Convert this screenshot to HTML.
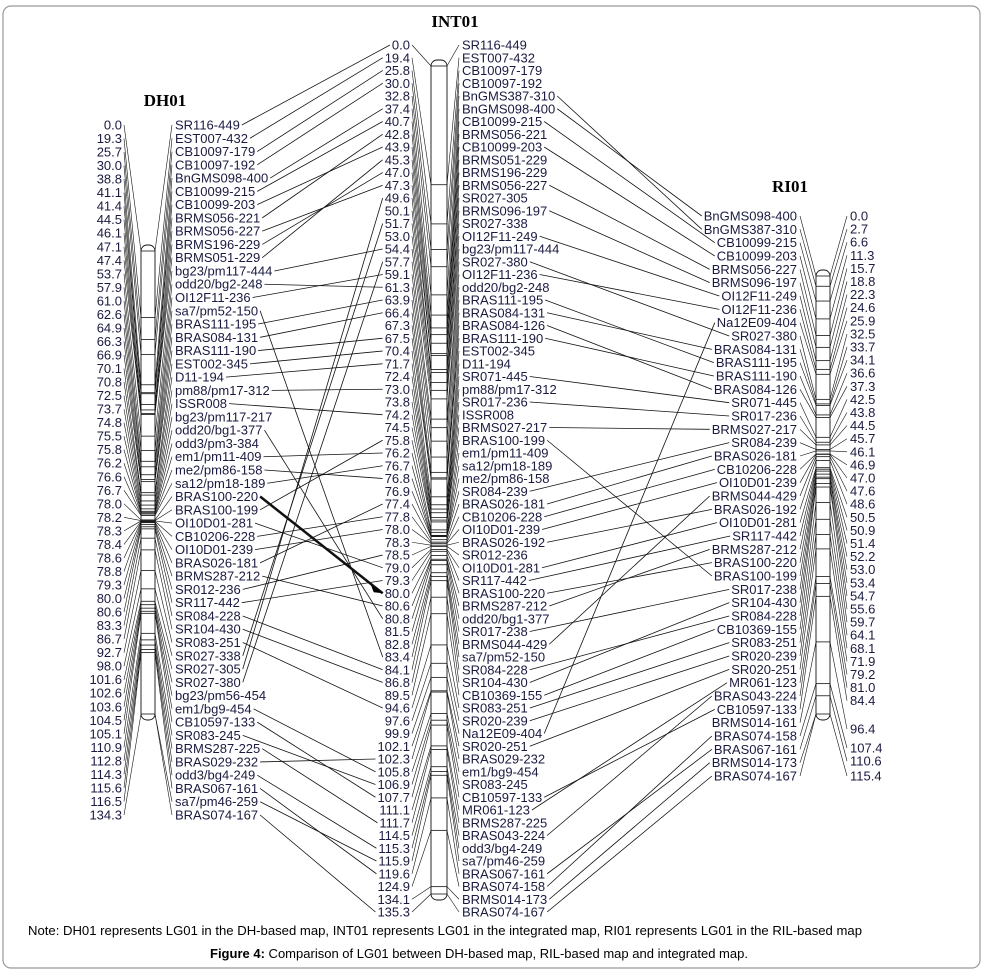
<!DOCTYPE html>
<html><head><meta charset="utf-8">
<style>
html,body{margin:0;padding:0;background:#fff;}
#c{position:relative;width:984px;height:977px;overflow:hidden;}
svg text{font-family:"Liberation Sans",Arial,sans-serif;}
</style></head>
<body><div id="c">
<svg id="s" width="984" height="977" xmlns="http://www.w3.org/2000/svg">
<rect x="3" y="6" width="977" height="962" rx="8" fill="none" stroke="#999" stroke-width="1.2"/>
<text x="455" y="27" font-family="Liberation Serif" font-weight="bold" font-size="17" text-anchor="middle" style="font-family:'Liberation Serif',serif">INT01</text>
<text x="165" y="106" font-weight="bold" font-size="17" text-anchor="middle" style="font-family:'Liberation Serif',serif">DH01</text>
<text x="790" y="192" font-weight="bold" font-size="17" text-anchor="middle" style="font-family:'Liberation Serif',serif">RI01</text>
<text x="28" y="935" font-size="12.5" textLength="834" lengthAdjust="spacingAndGlyphs">Note: DH01 represents LG01 in the DH-based map, INT01 represents LG01 in the integrated map, RI01  represents LG01 in the RIL-based map</text>
<text x="210" y="958" font-size="12.5" textLength="538" lengthAdjust="spacingAndGlyphs"><tspan font-weight="bold">Figure 4:</tspan> Comparison of LG01 between DH-based map, RIL-based map and integrated map.</text>
<g id="g"></g>
</svg>
</div>
<script>
var DHn="SR116-449,EST007-432,CB10097-179,CB10097-192,BnGMS098-400,CB10099-215,CB10099-203,BRMS056-221,BRMS056-227,BRMS196-229,BRMS051-229,bg23/pm117-444,odd20/bg2-248,OI12F11-236,sa7/pm52-150,BRAS111-195,BRAS084-131,BRAS111-190,EST002-345,D11-194,pm88/pm17-312,ISSR008,bg23/pm117-217,odd20/bg1-377,odd3/pm3-384,em1/pm11-409,me2/pm86-158,sa12/pm18-189,BRAS100-220,BRAS100-199,OI10D01-281,CB10206-228,OI10D01-239,BRAS026-181,BRMS287-212,SR012-236,SR117-442,SR084-228,SR104-430,SR083-251,SR027-338,SR027-305,SR027-380,bg23/pm56-454,em1/bg9-454,CB10597-133,SR083-245,BRMS287-225,BRAS029-232,odd3/bg4-249,BRAS067-161,sa7/pm46-259,BRAS074-167".split(",");
var DHv="0.0,19.3,25.7,30.0,38.8,41.1,41.4,44.5,46.1,47.1,47.4,53.7,57.9,61.0,62.6,64.9,66.3,66.9,70.1,70.8,72.5,73.7,74.8,75.5,75.8,76.2,76.6,76.7,78.0,78.2,78.3,78.4,78.6,78.8,79.3,80.0,80.6,83.3,86.7,92.7,98.0,101.6,102.6,103.6,104.5,105.1,110.9,112.8,114.3,115.6,116.5,134.3".split(",");
var INn="SR116-449,EST007-432,CB10097-179,CB10097-192,BnGMS387-310,BnGMS098-400,CB10099-215,BRMS056-221,CB10099-203,BRMS051-229,BRMS196-229,BRMS056-227,SR027-305,BRMS096-197,SR027-338,OI12F11-249,bg23/pm117-444,SR027-380,OI12F11-236,odd20/bg2-248,BRAS111-195,BRAS084-131,BRAS084-126,BRAS111-190,EST002-345,D11-194,SR071-445,pm88/pm17-312,SR017-236,ISSR008,BRMS027-217,BRAS100-199,em1/pm11-409,sa12/pm18-189,me2/pm86-158,SR084-239,BRAS026-181,CB10206-228,OI10D01-239,BRAS026-192,SR012-236,OI10D01-281,SR117-442,BRAS100-220,BRMS287-212,odd20/bg1-377,SR017-238,BRMS044-429,sa7/pm52-150,SR084-228,SR104-430,CB10369-155,SR083-251,SR020-239,Na12E09-404,SR020-251,BRAS029-232,em1/bg9-454,SR083-245,CB10597-133,MR061-123,BRMS287-225,BRAS043-224,odd3/bg4-249,sa7/pm46-259,BRAS067-161,BRAS074-158,BRMS014-173,BRAS074-167".split(",");
var INv="0.0,19.4,25.8,30.0,32.8,37.4,40.7,42.8,43.9,45.3,47.0,47.3,49.6,50.1,51.7,53.0,54.4,57.7,59.1,61.3,63.9,66.4,67.3,67.5,70.4,71.7,72.4,73.0,73.8,74.2,74.5,75.8,76.2,76.7,76.8,76.9,77.4,77.8,78.0,78.3,78.5,79.0,79.3,80.0,80.6,80.8,81.5,82.8,83.4,84.1,86.8,89.5,94.6,97.6,99.9,102.1,102.3,105.8,106.9,107.7,111.1,111.7,114.5,115.3,115.9,119.6,124.9,134.1,135.3".split(",");
var RIn="BnGMS098-400,BnGMS387-310,CB10099-215,CB10099-203,BRMS056-227,BRMS096-197,OI12F11-249,OI12F11-236,Na12E09-404,SR027-380,BRAS084-131,BRAS111-195,BRAS111-190,BRAS084-126,SR071-445,SR017-236,BRMS027-217,SR084-239,BRAS026-181,CB10206-228,OI10D01-239,BRMS044-429,BRAS026-192,OI10D01-281,SR117-442,BRMS287-212,BRAS100-220,BRAS100-199,SR017-238,SR104-430,SR084-228,CB10369-155,SR083-251,SR020-239,SR020-251,MR061-123,BRAS043-224,CB10597-133,BRMS014-161,BRAS074-158,BRAS067-161,BRMS014-173,BRAS074-167".split(",");
var RIv="0.0,2.7,6.6,11.3,15.7,18.8,22.3,24.6,25.9,32.5,33.7,34.1,36.6,37.3,42.5,43.8,44.5,45.7,46.1,46.9,47.0,47.6,48.6,50.5,50.9,51.4,52.2,53.0,53.4,54.7,55.6,59.7,64.1,68.1,71.9,79.2,81.0,84.4,96.4,107.4,110.6,115.4".split(",");
var NS="http://www.w3.org/2000/svg",g=document.getElementById("g");
var cv=document.createElement("canvas").getContext("2d");cv.font="13px 'Liberation Sans', Arial";
function W(t){return cv.measureText(t).width;}
function el(n,a,t){var e=document.createElementNS(NS,n);for(var k in a)e.setAttribute(k,a[k]);if(t!=null)e.textContent=t;g.appendChild(e);return e;}
function ln(x1,y1,x2,y2,w){el("line",{x1:x1,y1:y1,x2:x2,y2:y2,stroke:"#111","stroke-width":w||0.8});}
var C="#1a1a40";
function txt(x,y,t,a){el("text",{x:x,y:y+4.5,"font-size":13,fill:C,"text-anchor":a},t);}
function ys(n,y0,y1){var r=[];for(var i=0;i<n;i++)r.push(y0+(y1-y0)*i/(n-1));return r;}
// DH
var dhY=ys(DHn.length,125,815), dhNY=ys(DHv.length,125,815);
dhNY=dhNY.map(function(y,i){return i<DHv.length?125+(815-125)*i/(DHv.length-1):y;});
var dhBar=[141,155,245,720],inBar=[431,447,60,900],riBar=[816,830,270,720];
function bar(b,maxv){var x0=b[0],x1=b[1];el("rect",{x:x0,y:b[2],width:x1-x0,height:b[3]-b[2],fill:"#fff",stroke:"#111","stroke-width":0.9,rx:6});}
function ty(b,v,max){return b[2]+6+(b[3]-b[2]-12)*v/max;}
// DH
bar(dhBar);
DHv.forEach(function(v,i){var t=ty(dhBar,+v,134.3),y=dhNY[i];txt(122,y,v,"end");ln(124,y,dhBar[0],t,0.6);ln(dhBar[0],t,dhBar[1],t,0.8);});
DHn.forEach(function(n,i){var y=dhY[i],v=+DHv[Math.min(i,DHv.length-1)];var t=ty(dhBar,v,134.3);txt(175,y,n,"start");ln(dhBar[1],t,172,y,0.6);});
// INT
var inY=ys(INn.length,45,912);
bar(inBar);
INv.forEach(function(v,i){var t=ty(inBar,+v,135.3),y=inY[i];txt(410,y,v,"end");ln(412,y,inBar[0],t,0.6);ln(inBar[0],t,inBar[1],t,0.8);txt(462,y,INn[i],"start");ln(inBar[1],t,459,y,0.6);});
// RI
var riY=ys(RIn.length,216,776);
var riNY=[];for(var i=0;i<RIv.length;i++){riNY.push(i<38?216+i*13.1:[729,748,761,776][i-38]);}
bar(riBar);
RIv.forEach(function(v,i){var t=ty(riBar,+v,115.4),y=riNY[i];txt(850,y,v,"start");ln(847,y,riBar[1],t,0.6);ln(riBar[0],t,riBar[1],t,0.8);});
RIn.forEach(function(n,i){var y=riY[i],v=+RIv[Math.min(i,RIv.length-1)];var t=ty(riBar,v,115.4);txt(797,y,n,"end");ln(800,y,riBar[0],t,0.6);});
// connectors DH->INT
DHn.forEach(function(n,i){var j=INn.indexOf(n);if(j<0)return;var x1=175+W(n)+2,y1=dhY[i];var x2=410-W(INv[j])-2;var w=n=="BRAS100-220"?2.5:0.8;ln(x1,y1,x2,inY[j],w);});
// INT->RI
INn.forEach(function(n,j){var i=RIn.indexOf(n);if(i<0)return;ln(462+W(n)+2,inY[j],797-W(n)-2,riY[i],0.8);});
// arrowhead for thick line
(function(){var j=INn.indexOf("BRAS100-220");var x=410-W(INv[j])-2,y=inY[j];el("polygon",{points:(x)+","+y+" "+(x-12)+","+(y-9)+" "+(x-9)+","+(y-1),fill:"#000"});})();
</script>
</body></html>
